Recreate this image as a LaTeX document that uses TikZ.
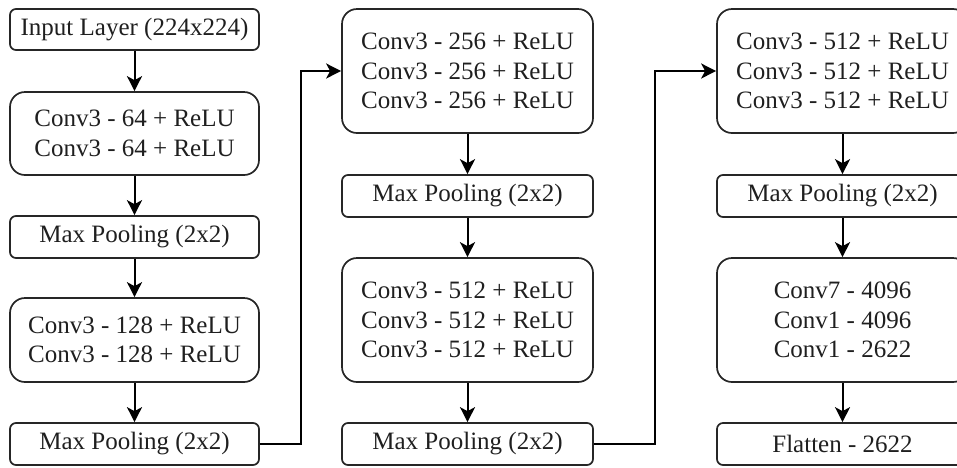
\documentclass[tikz,border=0pt]{standalone}
\usepackage{fontspec}
\setmainfont{Liberation Serif}
\usetikzlibrary{arrows.meta}
\begin{document}
\begin{tikzpicture}[x=1pt,y=-1pt,
  box/.style={draw=black!85,line width=1.7pt,rectangle,inner sep=0pt,align=center,
    text=black!88,font=\fontsize{25}{29.5}\selectfont},
  smallbox/.style={box,rounded corners=6pt,minimum height=42pt},
  bigbox/.style={box,rounded corners=15pt},
  arr/.style={line width=2pt,-{Stealth[length=15pt,width=15pt,inset=4pt]}}]
\useasboundingbox (0,0) rectangle (957,467);
% column 1
\node[smallbox,minimum width=249pt,minimum height=41pt] (in) at (134.5,29.5) {Input Layer (224x224)};
\node[bigbox,minimum width=249pt,minimum height=83pt] (c64) at (134.5,133.5) {Conv3 - 64 + ReLU\\Conv3 - 64 + ReLU};
\node[smallbox,minimum width=249pt] (mp1) at (134.5,237) {Max Pooling (2x2)};
\node[bigbox,minimum width=249pt,minimum height=84pt] (c128) at (134.5,340) {Conv3 - 128 + ReLU\\Conv3 - 128 + ReLU};
\node[smallbox,minimum width=249pt] (mp2) at (134.5,444) {Max Pooling (2x2)};
% column 2
\node[bigbox,minimum width=251pt,minimum height=124pt] (c256) at (467.5,71) {Conv3 - 256 + ReLU\\Conv3 - 256 + ReLU\\Conv3 - 256 + ReLU};
\node[smallbox,minimum width=251pt] (mp3) at (467.5,196) {Max Pooling (2x2)};
\node[bigbox,minimum width=251pt,minimum height=124pt] (c512a) at (467.5,320) {Conv3 - 512 + ReLU\\Conv3 - 512 + ReLU\\Conv3 - 512 + ReLU};
\node[smallbox,minimum width=251pt] (mp4) at (467.5,444) {Max Pooling (2x2)};
% column 3
\node[bigbox,minimum width=251pt,minimum height=124pt] (c512b) at (842.5,71) {Conv3 - 512 + ReLU\\Conv3 - 512 + ReLU\\Conv3 - 512 + ReLU};
\node[smallbox,minimum width=251pt] (mp5) at (842.5,196) {Max Pooling (2x2)};
\node[bigbox,minimum width=251pt,minimum height=124pt] (fc) at (842.5,320) {Conv7 - 4096\\Conv1 - 4096\\Conv1 - 2622};
\node[smallbox,minimum width=251pt] (fl) at (842.5,444) {Flatten - 2622};
% connectors
\draw[arr] (in) -- (c64);
\draw[arr] (c64) -- (mp1);
\draw[arr] (mp1) -- (c128);
\draw[arr] (c128) -- (mp2);
\coordinate (j1) at (301,444);
\draw[arr] (mp2.east) -- (j1) |- (c256.west);
\draw[arr] (c256) -- (mp3);
\draw[arr] (mp3) -- (c512a);
\draw[arr] (c512a) -- (mp4);
\coordinate (j2) at (655,444);
\draw[arr] (mp4.east) -- (j2) |- (c512b.west);
\draw[arr] (c512b) -- (mp5);
\draw[arr] (mp5) -- (fc);
\draw[arr] (fc) -- (fl);
\end{tikzpicture}
\end{document}
